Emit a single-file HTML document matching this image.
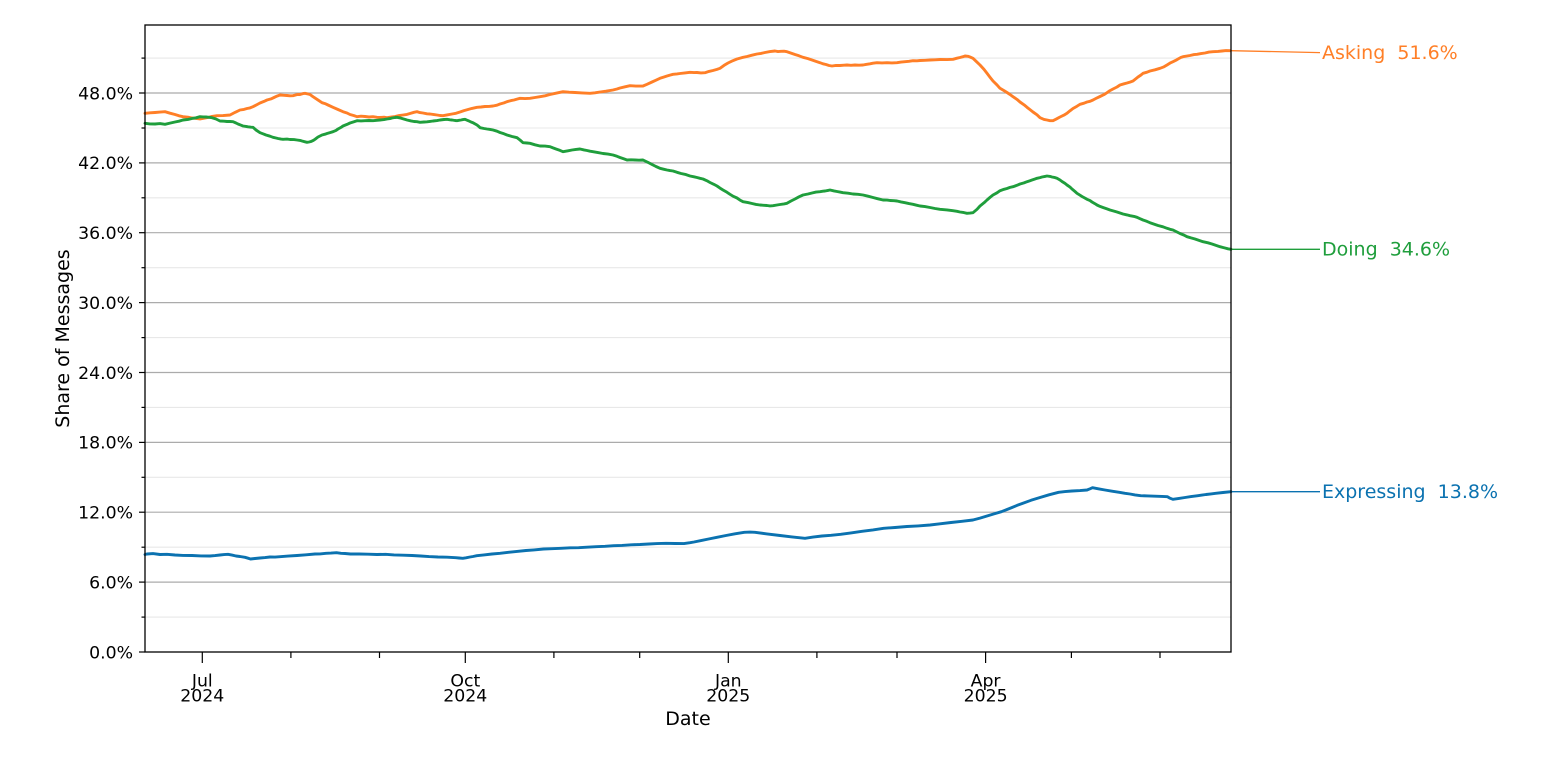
<!DOCTYPE html>
<html>
<head>
<meta charset="utf-8">
<style>
  html,body{margin:0;padding:0;background:#fff;}
  svg{display:block;}
  text{font-family:"DejaVu Sans","Liberation Sans",sans-serif;}
</style>
</head>
<body>
<svg width="1548" height="759" viewBox="0 0 1548 759" xmlns="http://www.w3.org/2000/svg">
  <rect x="0" y="0" width="1548" height="759" fill="#ffffff"/>
  <!-- minor grid -->
  <g stroke="#e8e8e8" stroke-width="1.1">
    <line x1="145" x2="1231" y1="617.1" y2="617.1"/>
    <line x1="145" x2="1231" y1="547.2" y2="547.2"/>
    <line x1="145" x2="1231" y1="477.3" y2="477.3"/>
    <line x1="145" x2="1231" y1="407.4" y2="407.4"/>
    <line x1="145" x2="1231" y1="337.6" y2="337.6"/>
    <line x1="145" x2="1231" y1="267.7" y2="267.7"/>
    <line x1="145" x2="1231" y1="197.8" y2="197.8"/>
    <line x1="145" x2="1231" y1="128.0" y2="128.0"/>
    <line x1="145" x2="1231" y1="58.1" y2="58.1"/>
  </g>
  <!-- major grid -->
  <g stroke="#ababab" stroke-width="1.2">
    <line x1="145" x2="1231" y1="582.1" y2="582.1"/>
    <line x1="145" x2="1231" y1="512.2" y2="512.2"/>
    <line x1="145" x2="1231" y1="442.4" y2="442.4"/>
    <line x1="145" x2="1231" y1="372.5" y2="372.5"/>
    <line x1="145" x2="1231" y1="302.6" y2="302.6"/>
    <line x1="145" x2="1231" y1="232.7" y2="232.7"/>
    <line x1="145" x2="1231" y1="162.9" y2="162.9"/>
    <line x1="145" x2="1231" y1="93.0" y2="93.0"/>
  </g>

  <!-- series -->
  <g fill="none" stroke-width="2.9" stroke-linejoin="round" stroke-linecap="round">
    <polyline stroke="#ff7f27" points="145,113.3 150,112.8 155,112.5 160,112.1 165,111.7 170,113.2 175,114.5 179,115.8 183,116.7 188,117.2 192,118 196,118.4 200,119 204,118.2 208,117.5 212,116.4 217,115.7 223,115.6 230,115 235,112.4 240,110 244,109.4 247,108.5 250,107.9 253,106.7 257,104.6 260,103 264,101.4 267,100 271,98.9 274,97.5 277,96.1 280,95 284,95.3 287,95.5 290,95.8 293,95.7 297,94.6 300,94.5 303,93.6 305,93.3 308,94 310,94.5 313,96.7 318,100 322,102.7 325,103.6 328,105 333,107.3 338,109.5 343,111.7 347,113 350,114.5 354,115.6 357,116.7 361,116.2 365,116.5 369,117 373,116.7 377,117.3 380,117.5 384,117.2 387,117.7 391,117.1 395,116.5 399,115.6 403,115 407,114.4 410,113.5 414,112.3 417,111.7 420,112.6 423,113 427,113.8 430,114 434,114.6 437,115 440,115.5 443,115.7 447,114.9 452,114 456,113.3 460,112 464,110.6 468,109.5 472,108.4 477,107.3 481,107 485,106.5 489,106.4 493,106 497,105.2 500,104 504,102.9 507,101.7 511,100.6 514,100 517,99.1 520,98.3 525,98.6 530,98.3 535,97.5 540,96.7 545,95.8 550,94.5 556,93.2 563,91.7 569,92.2 575,92.5 582,92.9 590,93.3 595,92.8 600,92 606,91.2 613,90 617,89 620,88 625,86.8 630,85.7 636,86.1 643,86 647,84.3 652,82 656,80.2 660,78.3 664,77 667,76 670,75.1 673,74.3 677,73.9 680,73.5 685,72.9 690,72.3 694,72.6 697,72.5 701,72.9 705,72.7 709,71.4 713,70.5 717,69.4 720,68.3 724,65.4 728,63 732,61.1 737,59 742,57.6 747,56.5 752,55.2 757,54 761,53.4 765,52.5 770,51.6 775,51 778,51.6 781,51.3 784,51.2 787,51.7 791,53.1 795,54.5 799,55.8 803,57.3 808,58.6 812,60 816,61.4 820,62.7 823,63.8 826,64.5 829,65.5 832,66 836,65.4 840,65.5 844,65.2 847,65 851,65.3 855,65 859,65.2 863,65 866,64.4 870,63.8 873,63.2 877,62.7 882,62.9 887,62.7 892,62.9 897,62.7 901,62.1 905,61.7 909,61.3 913,60.7 917,60.8 920,60.5 925,60.3 930,60 935,59.8 940,59.5 947,59.6 953,59.3 957,58.2 960,57.5 963,56.7 965,56 968,56.3 970,57 973,58.3 976,61.2 980,65 984,69.4 987,73.3 990,77.2 993,81 997,84.9 1000,88.3 1004,90.6 1007,92.5 1010,94.5 1013,96.7 1017,99.4 1020,102 1024,104.8 1027,107.3 1030,109.6 1033,112 1037,114.8 1040,117.7 1044,119.4 1047,120 1050,120.7 1053,120.7 1056,119.2 1060,117 1064,115.1 1067,113.3 1070,110.8 1073,108.5 1077,106.2 1080,104.3 1084,103.2 1087,102 1090,101.3 1093,100 1097,97.9 1100,96.5 1104,94.6 1107,92.7 1110,90.6 1113,89 1117,87 1120,85 1124,83.8 1127,83 1130,82.1 1133,81 1136,78.6 1138,77 1141,75 1143,73.3 1147,72.2 1150,71 1155,69.8 1160,68.3 1164,66.8 1167,65 1170,63.1 1173,61.7 1176,60.2 1178,59 1181,57.4 1183,56.7 1187,56 1190,55.5 1194,54.6 1197,54.3 1201,53.6 1205,53 1209,52.1 1213,51.7 1218,51.4 1222,51 1226,50.6 1230,50.7"/>
    <polyline stroke="#1f9e3c" points="145,123.3 150,123.9 155,124 160,123.6 165,124.3 170,123.1 175,122 179,121.2 183,120 188,119.4 192,118.5 196,117.8 200,116.7 203,116.9 206,117 209,117.3 212,117.7 216,119 220,121 224,121.2 227,121.5 230,121.5 233,121.7 236,123 238,124 241,125.2 243,126 246,126.4 248,126.8 251,127.2 253,127.3 256,130 260,132.7 263,133.8 266,135 270,136.2 273,137.3 276,138 278,138.5 281,139.1 283,139.3 287,139.1 290,139.5 294,139.6 297,140 300,140.4 302,141 305,141.8 307,142.3 309,142 311,141.5 313,140.6 315,139.3 318,137 320,136 322,135 325,134.2 327,133.5 330,132.6 333,131.7 336,130.4 338,129 341,127.4 343,126 347,124.4 350,123 354,121.7 357,120.7 361,120.9 365,120.7 369,120.5 373,120.7 377,120.3 380,120 384,119.6 387,119 390,118.6 392,118 395,117.5 397,117.3 400,117.9 402,118.5 405,119.4 407,120 411,120.9 414,121.5 417,121.7 420,122.3 424,122 427,121.8 430,121.4 433,121 437,120.6 440,120 444,119.5 447,119.3 450,119.8 452,120 455,120.5 457,120.7 459,120.3 461,120 463,119.6 465,119.3 467,120.2 469,121 471,122 473,122.7 475,123.9 477,125 479,126.6 480,127.7 484,128.5 487,129 490,129.4 493,130 497,131.2 500,132.5 504,133.8 507,135 510,135.9 512,136.5 515,137.2 517,137.7 520,140 523,142.7 527,143 530,143.3 535,144.8 540,146 545,146.1 550,146.7 553,147.9 556,149 560,150.4 563,151.7 568,150.8 572,150 576,149.4 580,149 584,149.9 587,150.5 590,151.2 593,151.7 598,152.6 603,153.5 608,154.1 613,155 617,156.3 620,157.5 624,158.9 627,160 631,159.8 635,160 639,160.2 643,160 648,162.4 652,164.5 656,166.5 660,168.3 664,169.3 667,170 670,170.6 673,171 677,172.3 681,173.5 686,174.6 690,176 694,176.8 697,177.5 700,178.3 703,179 707,180.8 710,182.5 714,184.4 717,186 720,188.1 723,190 727,192.3 730,194.3 733,196.2 737,198 740,200.1 743,201.7 748,202.6 752,203.5 756,204.4 760,205 764,205.3 767,205.5 770,205.9 773,205.7 777,205 780,204.5 784,203.9 787,203.3 791,201 795,199 799,196.8 803,195 808,194 812,193 816,192.1 820,191.7 823,191.2 825,191 828,190.4 830,190 834,190.9 837,191.5 840,192.1 843,192.7 848,193.2 853,194 858,194.3 863,195 868,196.2 873,197.5 878,198.8 883,200 887,200.1 890,200.5 894,200.7 897,201 901,201.9 905,202.7 909,203.6 913,204.3 917,205.3 920,206 925,206.6 930,207.5 935,208.5 940,209.3 947,209.9 953,210.7 957,211.3 960,212 964,212.6 967,213.3 970,213.1 973,212.7 977,209.3 980,206 984,202.8 987,200 990,197.4 993,195 997,192.8 1000,190.7 1004,189.3 1007,188.5 1010,187.4 1013,186.7 1017,185.3 1020,184 1024,182.9 1027,181.7 1030,180.7 1032,180 1035,179 1037,178.3 1040,177.6 1042,177 1045,176.4 1047,176 1050,176.4 1052,177 1055,177.6 1057,178.3 1060,180 1062,181.5 1065,183.4 1067,185 1070,187.1 1072,189 1075,191.5 1077,193.3 1080,195.2 1082,196.5 1085,198.1 1087,199.3 1090,200.6 1092,202 1095,203.7 1097,205 1100,206.4 1103,207.5 1107,208.9 1110,210 1114,211.1 1117,212 1120,213 1123,214 1127,214.9 1130,215.7 1134,216.4 1137,217.3 1140,218.7 1143,220 1147,221.4 1150,222.7 1154,224.1 1158,225.5 1163,226.8 1167,228.3 1170,229.3 1173,230 1177,232 1180,233.5 1184,235.1 1187,236.7 1191,237.9 1195,239 1199,240.4 1203,241.7 1208,242.8 1212,244 1216,245.4 1220,246.7 1223,247.5 1225,248 1228,248.8 1231,249.3"/>
    <polyline stroke="#0b72b0" points="145,554.5 147,554 153,553.6 160,554.5 167,554.3 175,555 183,555.4 192,555.5 201,555.9 210,556 215,555.6 220,555 224,554.6 228,554.3 232,555.1 236,556 240,556.5 245,557.3 248,558.2 250.5,559 255,558.5 260,558 265,557.6 270,557 275,557.1 280,556.7 288,556.1 297,555.5 306,554.8 315,554 320,553.9 326,553.3 331,553.1 336.5,552.7 341,553.3 345,553.5 350.5,554 359,554 368,554.2 377,554.5 385.6,554.3 394,554.9 403,555.2 412,555.5 420.7,556 429,556.6 438,557 447,557.2 455.8,557.7 459,558 462.8,558.3 466,557.8 470,557 473,556.5 476.8,555.7 484,554.9 492,554 500,553.3 508.4,552.3 517,551.4 526,550.5 534,549.9 543.5,549 552,548.7 561,548.3 570,547.8 578.6,547.7 587,547.2 596,546.7 605,546.3 613.7,545.7 622,545.4 631,544.8 640,544.5 648.8,544 657,543.6 666,543.3 675,543.5 684,543.6 690,542.7 694,542 701,540.6 708.6,539 717,537.3 726,535.5 735,533.8 744.3,532.3 750,532.1 755,532.3 767,533.9 780,535.5 792,536.9 805,538.3 813,537.1 822,536 831,535.3 840.7,534.3 851,532.9 862,531.3 873,529.9 883.6,528.3 895,527.5 907,526.5 918,525.9 930,525 940,523.8 951,522.5 962,521.3 972.9,520 980,518.1 987,516 994,513.9 1001.4,511.7 1007,509.5 1012,507.5 1017,505.4 1022.9,503.3 1031,500.3 1040,497.5 1049,494.8 1058.6,492.3 1065,491.6 1072,491 1080,490.6 1087,490 1090,488.8 1092.5,487.7 1099,488.9 1105,490 1112,491.2 1119.3,492.3 1125,493.3 1130,494 1135,494.9 1140.7,495.7 1148,495.9 1155,496.2 1162,496.4 1167.5,496.7 1170,498.2 1172.9,499.3 1179,498.4 1185,497.5 1191,496.6 1197.9,495.7 1202,495.1 1206,494.5 1211,493.9 1215.7,493.3 1223,492.5 1231,491.7"/>
  </g>

  <!-- connector lines -->
  <g stroke-width="1.3" fill="none">
    <line x1="1231" y1="50.7" x2="1320" y2="52.6" stroke="#ff7f27"/>
    <line x1="1231" y1="249.3" x2="1320" y2="249.3" stroke="#1f9e3c"/>
    <line x1="1231" y1="491.7" x2="1320" y2="491.7" stroke="#0b72b0"/>
  </g>

  <!-- spines -->
  <rect x="145" y="25" width="1086" height="627" fill="none" stroke="#000" stroke-width="1.3"/>

  <!-- y ticks -->
  <g stroke="#000" stroke-width="1.2">
    <line x1="139" x2="145" y1="652" y2="652"/>
    <line x1="139" x2="145" y1="582.1" y2="582.1"/>
    <line x1="139" x2="145" y1="512.2" y2="512.2"/>
    <line x1="139" x2="145" y1="442.4" y2="442.4"/>
    <line x1="139" x2="145" y1="372.5" y2="372.5"/>
    <line x1="139" x2="145" y1="302.6" y2="302.6"/>
    <line x1="139" x2="145" y1="232.7" y2="232.7"/>
    <line x1="139" x2="145" y1="162.9" y2="162.9"/>
    <line x1="139" x2="145" y1="93.0" y2="93.0"/>
    <line x1="141.5" x2="145" y1="617.1" y2="617.1"/>
    <line x1="141.5" x2="145" y1="547.2" y2="547.2"/>
    <line x1="141.5" x2="145" y1="477.3" y2="477.3"/>
    <line x1="141.5" x2="145" y1="407.4" y2="407.4"/>
    <line x1="141.5" x2="145" y1="337.6" y2="337.6"/>
    <line x1="141.5" x2="145" y1="267.7" y2="267.7"/>
    <line x1="141.5" x2="145" y1="197.8" y2="197.8"/>
    <line x1="141.5" x2="145" y1="128.0" y2="128.0"/>
    <line x1="141.5" x2="145" y1="58.1" y2="58.1"/>
  </g>
  <!-- x ticks -->
  <g stroke="#000" stroke-width="1.2">
    <line x1="202.3" x2="202.3" y1="652" y2="663"/>
    <line x1="465.3" x2="465.3" y1="652" y2="663"/>
    <line x1="728.3" x2="728.3" y1="652" y2="663"/>
    <line x1="985.6" x2="985.6" y1="652" y2="663"/>
    <line x1="290.9" x2="290.9" y1="652" y2="658"/>
    <line x1="379.5" x2="379.5" y1="652" y2="658"/>
    <line x1="553.9" x2="553.9" y1="652" y2="658"/>
    <line x1="639.7" x2="639.7" y1="652" y2="658"/>
    <line x1="816.9" x2="816.9" y1="652" y2="658"/>
    <line x1="897" x2="897" y1="652" y2="658"/>
    <line x1="1071.4" x2="1071.4" y1="652" y2="658"/>
    <line x1="1160" x2="1160" y1="652" y2="658"/>
  </g>

  <!-- y tick labels -->
  <g font-size="17.3" fill="#000" text-anchor="end">
    <text x="133" y="658.3">0.0%</text>
    <text x="133" y="588.4">6.0%</text>
    <text x="133" y="518.5">12.0%</text>
    <text x="133" y="448.7">18.0%</text>
    <text x="133" y="378.8">24.0%</text>
    <text x="133" y="308.9">30.0%</text>
    <text x="133" y="239.0">36.0%</text>
    <text x="133" y="169.2">42.0%</text>
    <text x="133" y="99.3">48.0%</text>
  </g>

  <!-- x tick labels -->
  <g font-size="17.3" fill="#000" text-anchor="middle">
    <text x="202.3" y="686.7">Jul</text>
    <text x="202.3" y="701.7">2024</text>
    <text x="465.3" y="686.7">Oct</text>
    <text x="465.3" y="701.7">2024</text>
    <text x="728.3" y="686.7">Jan</text>
    <text x="728.3" y="701.7">2025</text>
    <text x="985.6" y="686.7">Apr</text>
    <text x="985.6" y="701.7">2025</text>
  </g>

  <!-- axis labels -->
  <text x="688" y="725" font-size="19" text-anchor="middle" fill="#000">Date</text>
  <text transform="translate(69,338.5) rotate(-90)" font-size="19" text-anchor="middle" fill="#000">Share of Messages</text>

  <!-- annotations -->
  <g font-size="19">
    <text x="1322" y="59" fill="#ff7f27">Asking&#160; 51.6%</text>
    <text x="1322" y="255.7" fill="#1f9e3c">Doing&#160; 34.6%</text>
    <text x="1322" y="497.8" fill="#0b72b0">Expressing&#160; 13.8%</text>
  </g>
</svg>
</body>
</html>
